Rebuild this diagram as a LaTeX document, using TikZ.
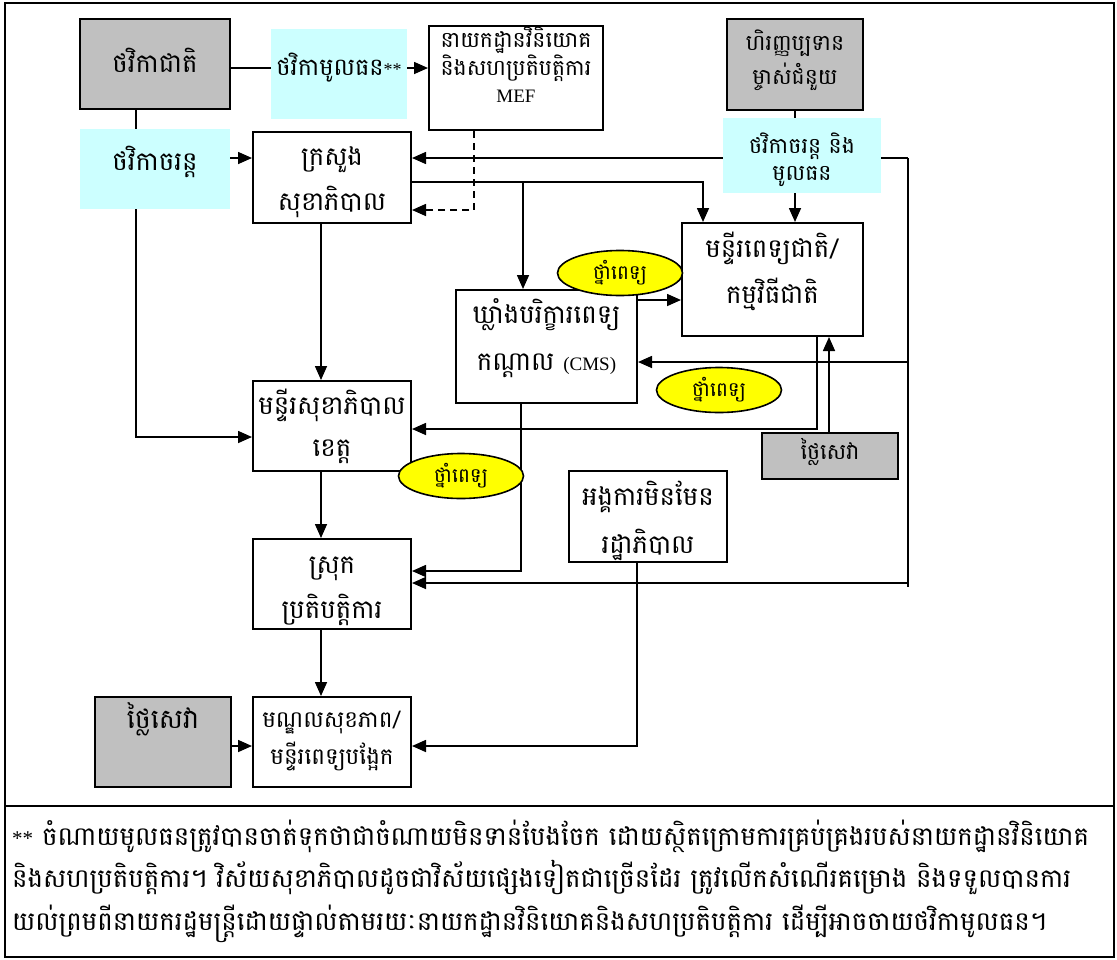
\documentclass[tikz,border=0pt]{standalone}
\usepackage{fontspec}
\newfontfamily\khm[Script=Khmer]{Battambang}
\newfontfamily\tms{Liberation Serif}
\usetikzlibrary{arrows.meta,shapes.geometric,backgrounds}
\definecolor{boxgray}{HTML}{C0C0C0}
\definecolor{paleblue}{HTML}{CCFFFF}
\definecolor{pillyellow}{HTML}{FFFF00}
\tikzset{
  blk/.style={draw, line width=2pt, fill=white, inner sep=0pt},
  grayblk/.style={blk, fill=boxgray},
  cyanblk/.style={fill=paleblue, inner sep=0pt},
  pill/.style={ellipse, draw, line width=1.6pt, fill=pillyellow, minimum width=125pt,
    minimum height=45pt, inner sep=0pt, font=\khm\fontsize{20}{22}\selectfont},
  lbl/.style={align=center, inner sep=0pt, font=\khm\fontsize{26}{45}\selectfont},
  slbl/.style={align=center, inner sep=0pt, font=\khm\fontsize{22}{30}\selectfont},
  note/.style={align=left, inner sep=0pt, font=\khm\fontsize{26}{38.5}\selectfont},
  wire/.style={line width=1.6pt},
  flow/.style={wire, -{Triangle[length=14pt,width=12pt]}},
}
\begin{document}
\begin{tikzpicture}[x=1pt,y=-1pt]
\useasboundingbox (0,0) rectangle (1117,959);

% frame and footnote rule
\draw[line width=2pt] (5,3) rectangle (1114,957);
\draw[line width=2pt] (5,806) -- (1114,806);

% budget sources
\node[grayblk, minimum width=150pt, minimum height=90pt] (natbud) at (155,64) {};
\node[lbl] (natbudtext) at (155,60) {ថវិកាជាតិ};
\node[cyanblk, minimum width=136pt, minimum height=90pt] (capbud) at (339,74) {};
\node[lbl, font=\khm\fontsize{24}{30}\selectfont] (capbudtext) at (339,68) {ថវិកាមូលធន{\tms\fontsize{18}{20}\selectfont**}};
\node[cyanblk, minimum width=150pt, minimum height=80pt] (curbud) at (155,169) {};
\node[lbl] (curbudtext) at (155,162) {ថវិកាចរន្ត};
\node[grayblk, minimum width=136pt, minimum height=91pt] (donor) at (795,64.5) {};
\node[slbl, font=\khm\fontsize{22}{34}\selectfont] (donortext) at (795,60) {ហិរញ្ញប្បទាន\\ម្ចាស់ជំនួយ};
\node[cyanblk, minimum width=158pt, minimum height=75pt] (dcap) at (802,155.5) {};
\node[slbl, font=\khm\fontsize{22}{27}\selectfont] (dcaptext) at (802,160) {ថវិកាចរន្ត និង\\មូលធន};

% ministries
\node[blk, minimum width=174pt, minimum height=104pt] (mef) at (516,78) {};
\node[slbl, font=\khm\fontsize{22}{24}\selectfont] (meftext) at (516,65)
  {នាយកដ្ឋានវិនិយោគ\\និងសហប្រតិបត្តិការ\\[3pt]{\tms\fontsize{19}{20}\selectfont MEF}};
\node[blk, minimum width=158pt, minimum height=91pt] (moh) at (332,177.5) {};
\node[lbl] (mohtext) at (332,182) {ក្រសួង\\សុខាភិបាល};

% national level
\node[blk, minimum width=181pt, minimum height=113pt] (nathosp) at (772.5,279.5) {};
\node[lbl, font=\khm\fontsize{26}{46}\selectfont] (nathosptext) at (772.5,271) {មន្ទីរពេទ្យជាតិ/\\កម្មវិធីជាតិ};
\node[blk, minimum width=181pt, minimum height=113pt] (cms) at (546.5,346.5) {};
\node[lbl, font=\khm\fontsize{26}{47}\selectfont] (cmstext) at (546.5,338)
  {ឃ្លាំងបរិក្ខារពេទ្យ\\កណ្តាល {\tms\fontsize{19}{20}\selectfont (CMS)}};
\node[grayblk, minimum width=136pt, minimum height=46pt] (fee2) at (830,456) {};
\node[slbl] (fee2text) at (830,452) {ថ្លៃសេវា};

% provincial and district level
\node[blk, minimum width=158pt, minimum height=90pt] (prov) at (332,426) {};
\node[lbl, font=\khm\fontsize{26}{42}\selectfont] (provtext) at (332,426) {មន្ទីរសុខាភិបាល\\ខេត្ត};
\node[blk, minimum width=158pt, minimum height=91pt] (ngo) at (648,516.5) {};
\node[lbl, font=\khm\fontsize{26}{48}\selectfont] (ngotext) at (648,521) {អង្គការមិនមែន\\រដ្ឋាភិបាល};
\node[blk, minimum width=158pt, minimum height=90pt] (district) at (332,584) {};
\node[lbl] (districttext) at (332,591) {ស្រុក\\ប្រតិបត្តិការ};
\node[blk, minimum width=158pt, minimum height=90pt] (hc) at (332,742) {};
\node[lbl, font=\khm\fontsize{23}{37}\selectfont] (hctext) at (332,741) {មណ្ឌលសុខភាព/\\មន្ទីរពេទ្យបង្អែក};
\node[grayblk, minimum width=136pt, minimum height=90pt] (fee1) at (163,742) {};
\node[lbl, font=\khm\fontsize{27}{30}\selectfont] (fee1text) at (163,719) {ថ្លៃសេវា};

% drugs
\node[pill] (drugs1) at (620,273) {ថ្នាំពេទ្យ};
\node[pill] (drugs2) at (719,390) {ថ្នាំពេទ្យ};
\node[pill] (drugs3) at (461,476) {ថ្នាំពេទ្យ};

% junctions
\coordinate (rtop) at (908,158);
\coordinate (rbot) at (908,587);
\coordinate (rcms) at (908,362);
\coordinate (rdist) at (908,583);
\coordinate (mohfork) at (523,182);

\begin{scope}[on background layer]
% national budget
\draw[flow] ([yshift=-4pt]natbud.east) -- ([yshift=-4pt]natbud.east -| mef.west);
\draw[wire] ([xshift=-19pt]natbud.south) -- ([xshift=-19pt]curbud.north);
\draw[flow] ([xshift=-19pt]curbud.south) |- ([yshift=-11pt]prov.west);
\draw[flow] ([yshift=11pt]curbud.east) -- ([yshift=11pt]curbud.east -| moh.west);
\draw[flow, dash pattern=on 7pt off 5pt] ([xshift=-42pt]mef.south) |- ([yshift=-32.5pt]moh.east);

% donor funds
\draw[wire] (donor.south) -- (donor.south |- dcap.north);
\draw[flow] (donor.south |- dcap.south) -- (donor.south |- nathosp.north);
\draw[wire] (rtop) -- (rbot);
\draw[flow] (rtop) -- (rtop -| moh.east);
\draw[flow] (rcms) -- (rcms -| cms.east);
\draw[flow] (rdist) -- (rdist -| district.east);

% ministry of health
\draw[flow] ([yshift=-4.5pt]moh.east) -| ([xshift=-69.5pt]nathosp.north);
\draw[flow] (mohfork) -- (mohfork |- cms.north);
\draw[flow] ([xshift=-11pt]moh.south) -- ([xshift=-11pt]prov.north);

% drugs and fees
\draw[flow] ([yshift=46.5pt]cms.east) -- ([yshift=46.5pt]cms.east -| nathosp.west);
\draw[flow] ([xshift=44.5pt]nathosp.south) |- ([yshift=-3pt]prov.east);
\draw[flow] ([xshift=-1pt]fee2.north) -- ([xshift=-1pt]fee2.north |- nathosp.south);
\draw[flow] ([xshift=-25.5pt]cms.south) |- ([yshift=13pt]district.east);

% down to the health centres
\draw[flow] ([xshift=-11pt]prov.south) -- ([xshift=-11pt]district.north);
\draw[flow] ([xshift=-11pt]district.south) -- ([xshift=-11pt]hc.north);
\draw[flow] ([yshift=-4pt]fee1.east) -- ([yshift=-4pt]fee1.east -| hc.west);
\draw[flow] ([xshift=-11pt]ngo.south) |- ([yshift=-4pt]hc.east);
\end{scope}

% footnote
\node[note, anchor=west] (footnote) at (12,881)
  {{\tms\fontsize{21}{20}\selectfont**} ចំណាយមូលធនត្រូវបានចាត់ទុកថាជាចំណាយមិនទាន់បែងចែក ដោយស្ថិតក្រោមការគ្រប់គ្រងរបស់នាយកដ្ឋានវិនិយោគ\\[4pt]
   និងសហប្រតិបត្តិការ។ វិស័យសុខាភិបាលដូចជាវិស័យផ្សេងទៀតជាច្រើនដែរ ត្រូវលើកសំណើរគម្រោង និងទទួលបានការ\\[4pt]
   យល់ព្រមពីនាយករដ្ឋមន្ត្រីដោយផ្ទាល់តាមរយៈនាយកដ្ឋានវិនិយោគនិងសហប្រតិបត្តិការ ដើម្បីអាចចាយថវិកាមូលធន។};
\end{tikzpicture}
\end{document}
